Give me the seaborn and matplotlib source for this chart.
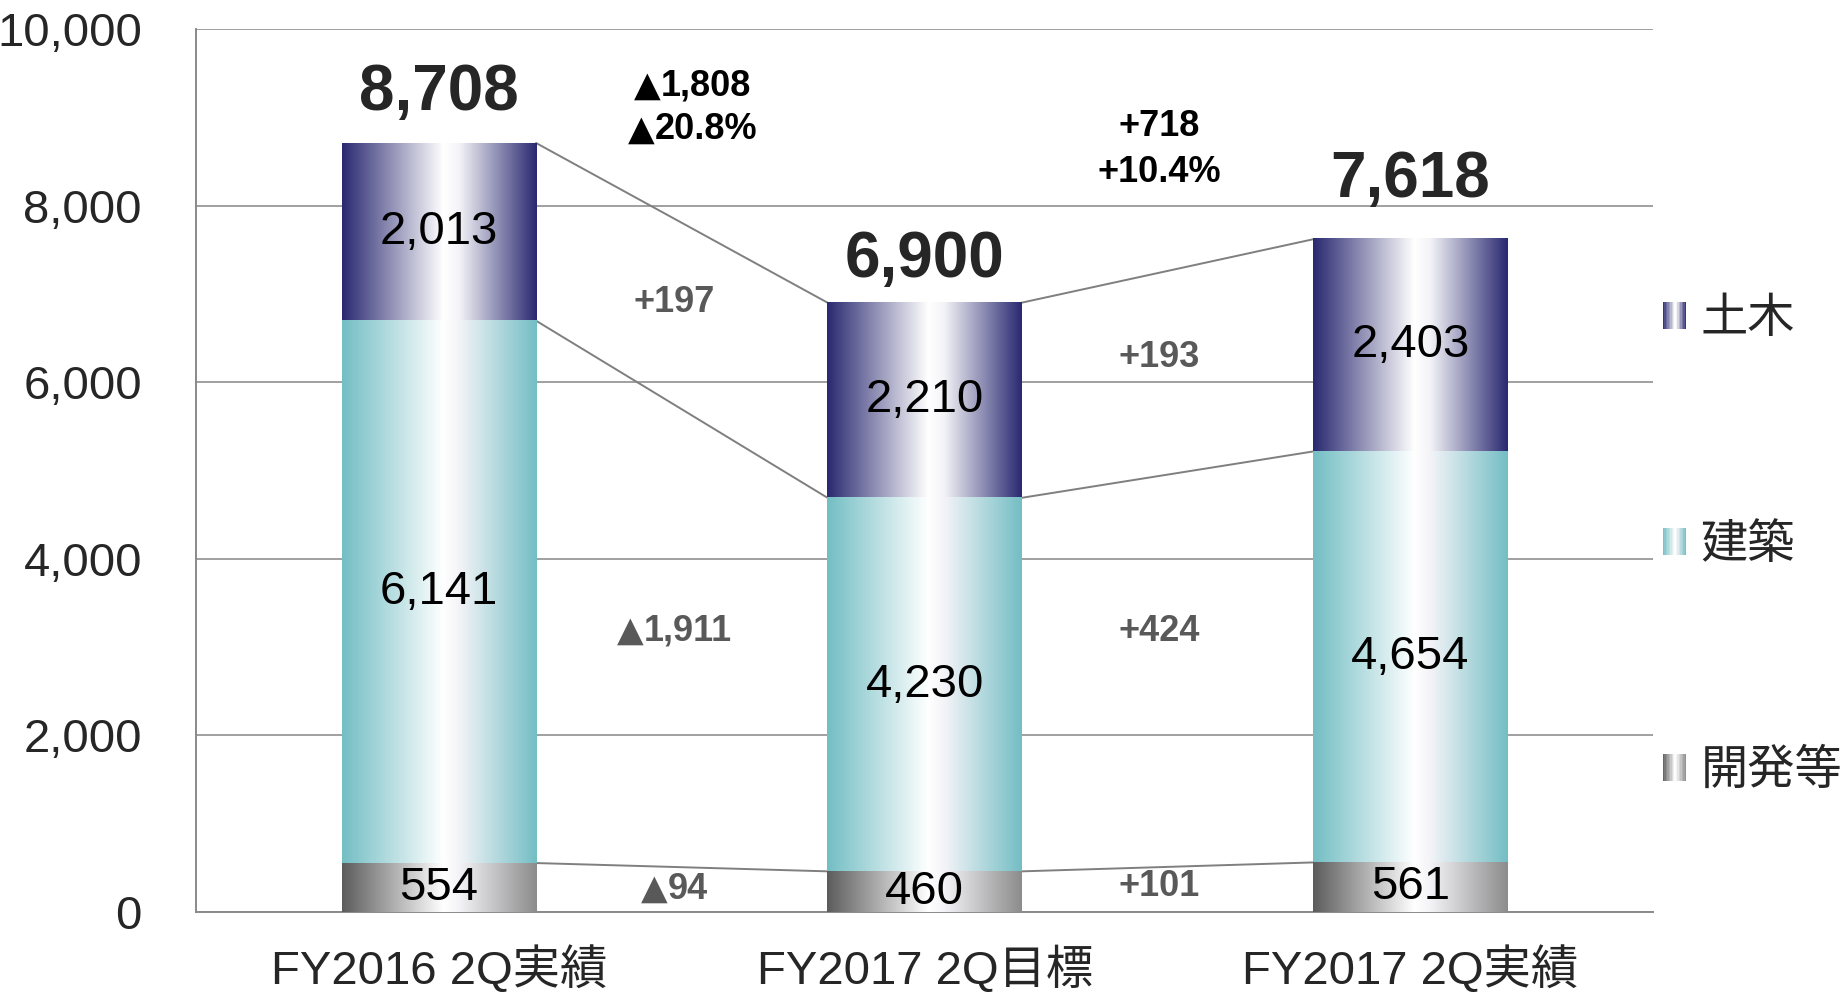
import numpy as np
import pandas as pd
import seaborn as sns
import matplotlib.pyplot as plt
from matplotlib.colors import LinearSegmentedColormap
from matplotlib.patches import Rectangle
from matplotlib.legend_handler import HandlerBase
from matplotlib.ticker import FuncFormatter
from matplotlib.offsetbox import TextArea, HPacker, AnnotationBbox

# values
categories = ["FY2016 2Q実績", "FY2017 2Q目標", "FY2017 2Q実績"]
dev = [554, 460, 561]        # 開発等 (bottom)
arch = [6141, 4230, 4654]    # 建築
civil = [2013, 2210, 2403]   # 土木 (top)
yticks = [0, 2000, 4000, 6000, 8000, 10000]

sns.set_style("white")
plt.rcParams['font.family'] = ['Liberation Sans', 'Noto Sans CJK JP', 'DejaVu Sans']

GRID = "#a0a0a0"
AXIS = "#8a8a8a"


def grad_cmap(left, right):
    return LinearSegmentedColormap.from_list(
        "g", [(0.0, left), (0.52, "#ffffff"), (0.6, "#f4f4f8"), (1.0, right)])


cmaps = {
    "土木": grad_cmap("#2a2971", "#2a2971"),
    "建築": grad_cmap("#73bec4", "#73bec4"),
    "開発等": grad_cmap("#5c5c5c", "#8c8c8c"),
}
base_colors = {"土木": "#2a2971", "建築": "#73bec4", "開発等": "#7a7a7a"}

df = pd.DataFrame({"cat": categories, "開発等": dev, "建築": arch, "土木": civil})
df["top_dev"] = df["開発等"]
df["top_arch"] = df["top_dev"] + df["建築"]
df["top_civil"] = df["top_arch"] + df["土木"]

fig = plt.figure(figsize=(18.41, 9.93), dpi=100)
ax = fig.add_axes([0.1065, 0.0816, 0.7915, 0.8893])

grad = np.linspace(0, 1, 256).reshape(1, -1)
layers = [("土木", "top_civil", "top_arch"),
          ("建築", "top_arch", "top_dev"),
          ("開発等", "top_dev", None)]
bar_geom = {}
for z, (name, topcol, botcol) in enumerate(layers):
    n0 = len(ax.patches)
    sns.barplot(data=df, x="cat", y=topcol, color=base_colors[name], width=0.4,
                saturation=1, linewidth=0, errorbar=None, ax=ax, zorder=3 + z)
    for i, p in enumerate(ax.patches[n0:]):
        x0, w = p.get_x(), p.get_width()
        bottom = df[botcol][i] if botcol else 0
        ax.imshow(grad, cmap=cmaps[name], extent=[x0, x0 + w, bottom, p.get_height()],
                  aspect="auto", interpolation="bicubic", zorder=3.5 + z)
        bar_geom[i] = (x0, w)
        ax.text(x0 + w / 2, (bottom + p.get_height()) / 2, f"{df[name][i]:,}",
                ha="center", va="center", fontsize=34, color="black", zorder=10)

# connector lines between bars
for col in ["top_dev", "top_arch", "top_civil"]:
    for i in range(len(categories) - 1):
        xa = bar_geom[i][0] + bar_geom[i][1]
        xb = bar_geom[i + 1][0]
        ax.plot([xa, xb], [df[col][i], df[col][i + 1]], color="#7f7f7f", lw=1.4, zorder=2)

# totals above bars
total_offsets = [36, 31, 43]
for i, t in enumerate(df["top_civil"]):
    ax.annotate(f"{t:,}", (i, t), xytext=(0, total_offsets[i]), textcoords="offset points",
                ha="center", va="center", fontsize=46, fontweight="bold", zorder=10)


def diff_label(x, y, value, color, pct=False):
    # a big triangle for negatives, like the original slide font
    body = f"{abs(value):.1f}%" if pct else f"{abs(value):,}"
    props = dict(size=26, weight="bold", color=color)
    if value >= 0:
        parts = [TextArea("+" + body, textprops=props)]
    else:
        parts = [TextArea("▲", textprops=dict(size=25, color=color, family="DejaVu Sans")),
                 TextArea(body, textprops=props)]
    box = HPacker(children=parts, align="baseline", pad=0, sep=0)
    ab = AnnotationBbox(box, (x, y), frameon=False, box_alignment=(0.5, 0.5),
                        pad=0, zorder=10)
    ax.add_artist(ab)


# segment differences
diff_x = [0.485, 1.483]
diff_y = {"土木": [6900, 6277], "建築": [3178, 3178], "開発等": [253, 293]}
for name in ["土木", "建築", "開発等"]:
    for i in range(2):
        d = df[name][i + 1] - df[name][i]
        diff_label(diff_x[i], diff_y[name][i], d, "#595959")

# total differences
tot_x = [0.522, 1.483]
tot_y = [(9348, 8856), (8896, 8378)]
for i in range(2):
    a, b = df["top_civil"][i], df["top_civil"][i + 1]
    diff_label(tot_x[i], tot_y[i][0], b - a, "black")
    diff_label(tot_x[i], tot_y[i][1], (b - a) / a * 100, "black", pct=True)

# axes styling
ax.set_xlim(-0.5, 2.5)
ax.set_ylim(0, 10000)
ax.set_yticks(yticks)
ax.yaxis.set_major_formatter(FuncFormatter(lambda v, _: f"{int(v):,}"))
ax.set_xlabel("")
ax.set_ylabel("")
ax.grid(axis="y", color=GRID, lw=1.4, zorder=1)
ax.set_axisbelow(True)
for s in ["top", "right"]:
    ax.spines[s].set_visible(False)
for s in ["left", "bottom"]:
    ax.spines[s].set_color(AXIS)
    ax.spines[s].set_linewidth(1.4)
ax.tick_params(axis="y", length=10, width=1.4, color=GRID, pad=29, labelsize=34)
ax.tick_params(axis="x", which="major", length=0, pad=25, labelsize=34)
ax.set_xticks([-0.5, 0.5, 1.5, 2.5], minor=True)
ax.tick_params(axis="x", which="minor", length=10, width=1.4, color=AXIS)


class GradHandler(HandlerBase):
    def __init__(self, cmap):
        super().__init__()
        self.cmap = cmap

    def create_artists(self, legend, orig_handle, xdescent, ydescent, width, height,
                       fontsize, trans):
        n = 16
        arts = []
        for k in range(n):
            arts.append(Rectangle((-xdescent + width * k / n, -ydescent), width / n, height,
                                  facecolor=self.cmap((k + 0.5) / n), edgecolor="none",
                                  transform=trans))
        return arts


legend_names = ["土木", "建築", "開発等"]
handles = [Rectangle((0, 0), 1, 1) for _ in legend_names]
hmap = {h: GradHandler(cmaps[n]) for h, n in zip(handles, legend_names)}
ax.legend(handles, legend_names, handler_map=hmap, loc="center left",
          bbox_to_anchor=(1.0, 0.414), frameon=False, fontsize=34,
          labelspacing=3.85, handlelength=0.5, handleheight=0.5,
          handletextpad=0.3, borderaxespad=0.2, borderpad=0)

fig.savefig("out.png", dpi=100)
